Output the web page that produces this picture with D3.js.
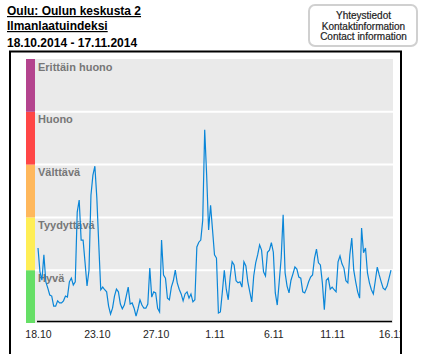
<!DOCTYPE html>
<html><head><meta charset="utf-8">
<script src="https://cdn.jsdelivr.net/npm/d3@7"></script>
<style>body{margin:0;background:#fff}svg{display:block}</style>
</head><body>
<script>
const titleLines = ["Oulu: Oulun keskusta 2", "Ilmanlaatuindeksi", "18.10.2014 - 17.11.2014"];
const contactLines = ["Yhteystiedot", "Kontaktinformation", "Contact information"];
const bandNames = ["Hyvä", "Tyydyttävä", "Välttävä", "Huono", "Erittäin huono"];
const bandColors = ["#66df66", "#ffee55", "#ffb85c", "#ff4646", "#b4448e"];
const tickDays = [0, 5, 10, 15, 20, 25, 30];
const tickLabels = ["18.10", "23.10", "27.10", "1.11", "6.11", "11.11", "16.11"];
const stepHours = 4;
const indexValues = [
1.42,0.97,0.81,1.29,0.78,0.66,0.53,0.51,0.32,0.32,
0.42,0.38,0.38,0.42,0.51,0.49,0.78,0.85,0.72,0.78,
2.10,2.33,1.57,1.57,1.14,0.70,1.00,2.42,2.80,2.97,
2.37,1.48,0.63,0.68,0.63,0.59,0.32,0.17,0.28,0.51,
0.64,0.59,0.36,0.27,0.34,0.51,0.68,0.36,0.38,0.28,
0.13,0.27,0.44,0.34,0.28,0.28,0.36,1.04,0.49,0.59,
0.57,0.28,0.21,1.57,0.91,0.85,0.47,0.44,0.68,0.80,
1.00,0.76,0.64,0.55,0.42,0.55,0.59,0.47,0.55,0.40,
0.44,1.44,1.53,1.57,1.95,3.66,2.80,1.76,2.23,1.76,
1.29,1.23,0.19,0.21,0.59,1.00,0.64,0.44,0.87,1.16,
1.10,0.80,0.76,0.78,0.68,1.16,1.08,0.78,0.59,0.40,
0.89,1.14,1.29,1.48,1.38,0.97,0.89,1.34,1.38,1.52,
1.34,0.57,0.34,0.78,1.23,2.05,0.95,0.70,0.57,0.81,
0.93,1.06,1.02,0.87,0.85,0.59,0.57,0.66,0.78,0.87,
0.91,1.23,1.40,1.14,1.10,0.76,0.25,0.81,0.85,0.64,
0.68,0.63,0.59,1.16,1.27,1.12,1.04,0.80,0.76,1.29,
1.61,1.00,0.78,0.59,0.47,1.80,1.33,1.42,0.95,0.76,
0.63,0.55,0.80,1.06,0.91,0.78,0.66,0.63,0.70,0.85,1.00
];

const svg = d3.select("body").append("svg").attr("width", 425).attr("height", 354);
const font = "'Liberation Sans', Arial, sans-serif";

// Title
titleLines.forEach((t, i) => {
  svg.append("text").attr("x", 7).attr("y", [15, 30, 46.5][i])
    .attr("font-family", font).attr("font-size", 12).attr("font-weight", "bold")
    .attr("fill", "#000")
    .attr("text-decoration", i < 2 ? "underline" : null)
    .text(t);
});

// Contact box
svg.append("rect").attr("x", 309).attr("y", 5).attr("width", 108).attr("height", 41)
  .attr("rx", 6).attr("fill", "#fff").attr("stroke", "#d0d0d0").attr("stroke-width", 2);
contactLines.forEach((t, i) => {
  svg.append("text").attr("x", 363.5).attr("y", 19 + i * 10.7).attr("text-anchor", "middle")
    .attr("font-family", font).attr("font-size", 10).attr("fill", "#222")
    .attr("stroke", "#222").attr("stroke-width", 0.2).text(t);
});

// Outer frame
svg.append("defs").append("clipPath").attr("id", "frame")
  .append("rect").attr("x", 10).attr("y", 51).attr("width", 390).attr("height", 303);
svg.append("rect").attr("x", 10).attr("y", 51.5).attr("width", 391).attr("height", 310)
  .attr("fill", "none").attr("stroke", "#000").attr("stroke-width", 2);

const g = svg.append("g").attr("clip-path", "url(#frame)");

const x = d3.scaleLinear().domain([0, 30]).range([38, 391]);
const y = d3.scaleLinear().domain([0, 5]).range([323, 59]);

// background
g.append("rect").attr("x", 35).attr("y", y(5)).attr("width", 358).attr("height", y(0) - y(5)).attr("fill", "#eaeaea");

// color bar
g.selectAll("rect.band").data(bandNames).join("rect").attr("class", "band")
  .attr("x", 26).attr("width", 9)
  .attr("y", (d, i) => y(i + 1)).attr("height", (d, i) => y(i) - y(i + 1))
  .attr("fill", (d, i) => bandColors[i]);

// separators
g.selectAll("line.sep").data([1, 2, 3, 4]).join("line").attr("class", "sep")
  .attr("x1", 35).attr("x2", 393).attr("y1", d => y(d)).attr("y2", d => y(d))
  .attr("stroke", "#fff").attr("stroke-width", 2);

// band labels
g.selectAll("text.bl").data(bandNames).join("text").attr("class", "bl")
  .attr("x", 38).attr("y", (d, i) => y(i + 1) + 11.5)
  .attr("font-family", font).attr("font-size", 11).attr("font-weight", "bold")
  .attr("fill", "#777").text(d => d);

// line
const pts = indexValues.map((v, i) => [i * stepHours / 24, v]);
g.append("path").datum(pts)
  .attr("d", d3.line().x(d => x(d[0])).y(d => y(d[1])))
  .attr("fill", "none").attr("stroke", "#0a86d8").attr("stroke-width", 1.2);

// axis baseline
g.append("line").attr("x1", 37).attr("x2", 392).attr("y1", 321.5).attr("y2", 321.5)
  .attr("stroke", "#000").attr("stroke-width", 1.5);

const ax = g.append("g").attr("transform", "translate(0,321.5)")
  .call(d3.axisBottom(x).tickValues(tickDays).tickFormat((d, i) => tickLabels[i]).tickSize(0).tickPadding(9));
ax.select(".domain").remove();
ax.selectAll("text").attr("font-family", font).attr("font-size", 10.5).attr("fill", "#222");
</script>
</body></html>
